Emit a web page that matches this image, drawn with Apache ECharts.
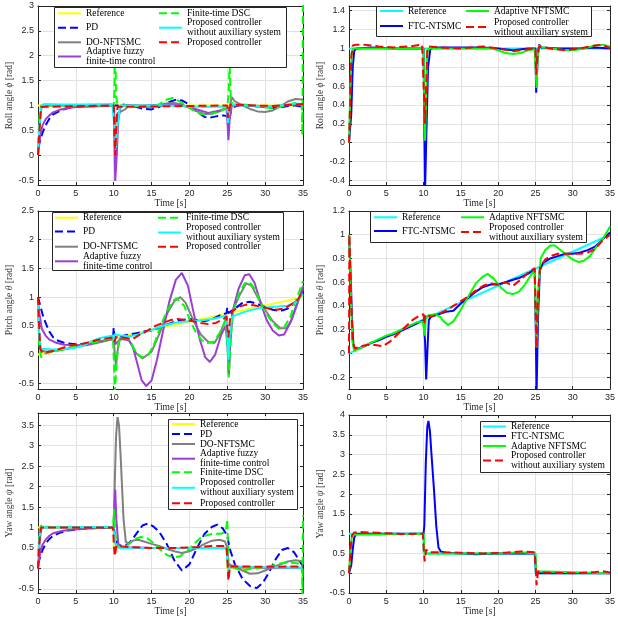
<!DOCTYPE html>
<html>
<head>
<meta charset="utf-8">
<script src="https://cdn.jsdelivr.net/npm/echarts@6/dist/echarts.min.js"></script>
<style>
  html, body { margin: 0; padding: 0; background: #fff; }
  #chart { width: 618px; height: 625px; }
</style>
</head>
<body>
<div id="chart"></div>
<script>
// ---- data: [time s, angle rad] ----
// roll, left panel
const rollL_ref = [[0,1],[35,1]];
const rollL_pd = [[0,0.15],[0.3,0.3],[0.6,0.45],[1,0.6],[1.5,0.73],[2,0.82],[3,0.9],[4,0.95],[5,0.97],[6,0.98],[8,0.99],[10,1.0],[10.2,1.03],[10.5,1.0],[11,1.02],[12,1.0],[13,0.97],[14,0.93],[15,0.92],[16,0.97],[17,1.05],[18.3,1.12],[19,1.1],[20,1.02],[21,0.87],[22,0.77],[22.6,0.75],[23.5,0.78],[24.5,0.8],[25,0.78],[25.2,0.7],[25.5,0.9],[26,0.98],[27,1.02],[28,1.0],[29,0.98],[30,0.97],[31,0.95],[32,0.96],[33,0.99],[34,1.0],[35,0.97]];
const rollL_dof = [[0,0.1],[0.3,0.8],[0.5,0.97],[1,1.0],[10,1.0],[10.2,0.6],[10.5,0.85],[11,0.88],[11.5,0.92],[12,1.0],[13,1.0],[14,0.97],[15,0.97],[16,1.0],[17,1.04],[18,1.05],[19,1.02],[20,0.95],[21,0.88],[22,0.83],[23,0.83],[24,0.88],[24.8,0.93],[25,0.95],[25.2,0.9],[25.6,1.17],[26,1.08],[27,1.0],[28,0.93],[29,0.88],[30,0.87],[31,0.9],[32,0.98],[33,1.08],[34,1.13],[35,1.12]];
const rollL_fuzzy = [[0,0],[0.3,0.4],[0.6,0.6],[1,0.72],[1.5,0.8],[2,0.86],[3,0.92],[4,0.95],[5,0.97],[7,0.98],[9,0.99],[10,1.0],[10.1,0.3],[10.2,-0.52],[10.4,0.0],[10.6,0.7],[10.9,0.97],[11.5,1.0],[14,1.0],[17,1.02],[19,1.0],[21,0.92],[22.5,0.85],[24,0.9],[24.9,0.95],[25.05,0.6],[25.15,0.3],[25.3,0.7],[25.6,1.0],[28,1.0],[31,0.98],[34,1.02],[35,1.0]];
const rollL_dsc = [[0,0.2],[0.2,0.8],[0.4,1.0],[10,1.0],[10.1,1.3],[10.2,2.5],[10.3,1.2],[10.5,1.0],[12,1.0],[14,0.97],[15,0.97],[16,1.02],[17,1.12],[17.8,1.15],[18.5,1.1],[19.5,1.0],[20.5,0.9],[21.5,0.83],[22.5,0.82],[23.5,0.86],[24.5,0.92],[25,0.95],[25.2,1.3],[25.3,1.9],[25.45,1.2],[25.7,1.0],[27,1.02],[28,1.0],[29,0.97],[30,0.96],[31,0.95],[32,0.97],[33,1.02],[34,1.05],[34.85,1.02],[34.92,0.4],[35,3.2]];
const rollL_noaux = [[0,0.1],[0.2,0.6],[0.4,0.95],[0.6,1.02],[1,1.03],[3,1.02],[6,1.02],[9.8,1.03],[10,1.0],[10.15,0.5],[10.3,0.15],[10.5,0.6],[10.8,0.95],[11,1.0],[14,1.0],[17,1.0],[20,0.98],[22,0.97],[24,0.98],[25,0.97],[25.1,0.65],[25.3,0.95],[25.6,1.03],[27,1.0],[30,0.98],[32,1.0],[34,1.04],[35,1.03]];
const rollL_prop = [[0,0],[0.2,0.5],[0.4,0.97],[0.6,1.0],[10,1.0],[10.1,0.4],[10.2,0.0],[10.35,0.6],[10.5,0.97],[10.7,1.0],[25,1.0],[25.1,0.75],[25.3,0.95],[25.5,1.02],[28,1.0],[31,0.99],[34,1.02],[35,1.03]];

// roll, right panel
const rollR_ref = [[0,1],[35,1]];
const rollR_ftc = [[0,0],[0.3,0.3],[0.5,0.8],[0.7,0.97],[1,1.0],[3,1.01],[6,1.0],[10,1.0],[10.1,0.2],[10.2,-0.5],[10.35,0.0],[10.6,0.8],[10.9,0.99],[11.5,1.01],[15,1.01],[18,1.01],[20,1.0],[22,0.98],[24,1.0],[25,1.0],[25.1,0.53],[25.3,0.9],[25.5,1.04],[25.8,1.01],[28,1.0],[31,1.0],[33,1.01],[35,1.0]];
const rollR_anft = [[0,0],[0.15,0.5],[0.35,0.95],[0.6,1.0],[10,1.0],[10.1,0.4],[10.2,0.02],[10.35,0.5],[10.5,0.95],[10.7,1.0],[19,1.0],[20,0.98],[21,0.95],[22,0.94],[23,0.95],[24,0.98],[24.9,0.99],[25.05,0.75],[25.15,0.58],[25.3,0.9],[25.5,1.03],[26,1.01],[27,1.0],[28,0.99],[29,0.98],[30,0.98],[31,0.99],[32,1.01],[33,1.03],[34,1.04],[35,1.02]];
const rollR_noaux = [[0,0],[0.15,0.4],[0.3,0.9],[0.5,1.03],[1,1.04],[2,1.04],[4,1.02],[6,1.01],[8,1.02],[9.8,1.04],[10,1.03],[10.1,0.4],[10.2,0.2],[10.35,0.6],[10.5,0.98],[10.7,1.02],[12,1.01],[15,1.0],[18,1.02],[20,1.0],[22,0.97],[24,0.99],[25,1.0],[25.1,0.72],[25.3,0.95],[25.5,1.02],[27,1.0],[29,0.98],[31,1.0],[33,1.03],[34,1.04],[35,1.0]];

// pitch, left panel
const pitchL_ref = [[0,0],[35,1]];
const pitchL_pd = [[0,1.0],[0.3,0.85],[0.6,0.7],[1,0.55],[1.5,0.4],[2,0.3],[2.5,0.25],[3.5,0.2],[5,0.18],[7,0.2],[9,0.25],[9.9,0.27],[10,0.47],[10.1,0.3],[11,0.32],[12,0.35],[13,0.37],[14,0.4],[15,0.42],[16,0.47],[17,0.52],[18,0.57],[19,0.6],[20,0.62],[21,0.6],[22,0.58],[23,0.62],[24,0.68],[24.9,0.72],[25,0.82],[25.1,0.72],[26,0.8],[27,0.9],[28,0.92],[29,0.88],[30,0.83],[31,0.78],[32,0.76],[33,0.8],[34,0.92],[35,1.1]];
const pitchL_dof = [[0,1.0],[0.15,0.3],[0.3,0.08],[1,0.05],[3,0.08],[5,0.13],[7,0.18],[9,0.24],[10,0.28],[10.15,0.0],[10.3,-0.2],[10.5,0.05],[10.8,0.28],[11.5,0.3],[12,0.25],[13,0.02],[13.8,-0.07],[15,0.05],[16,0.35],[17,0.7],[18,0.93],[18.8,1.0],[19.5,0.9],[20.5,0.6],[21.5,0.35],[22.5,0.22],[23.3,0.2],[24,0.35],[24.9,0.65],[25.05,0.2],[25.2,-0.35],[25.4,0.3],[25.7,0.75],[26.5,1.0],[27.5,1.24],[28.2,1.2],[29,1.0],[30,0.78],[31,0.58],[32,0.46],[32.8,0.46],[33.5,0.6],[34.3,0.9],[35,1.2]];
const pitchL_fuzzy = [[0,0.9],[0.2,0.7],[0.5,0.45],[1,0.33],[1.5,0.26],[2.5,0.2],[3.5,0.17],[5,0.16],[6,0.17],[7,0.19],[8,0.22],[9,0.25],[10,0.29],[10.2,0.18],[10.5,0.22],[11,0.27],[12,0.25],[12.5,0.15],[13,-0.1],[13.7,-0.45],[14.3,-0.55],[15,-0.45],[15.7,-0.1],[16.5,0.4],[17.3,0.9],[18.2,1.3],[19,1.42],[19.8,1.2],[20.6,0.7],[21.4,0.25],[22.1,-0.05],[22.7,-0.13],[23.4,0.0],[24.2,0.35],[24.8,0.5],[25.05,0.1],[25.2,-0.35],[25.4,0.2],[25.7,0.75],[26.5,1.15],[27.3,1.38],[27.9,1.4],[28.6,1.25],[29.4,0.9],[30.2,0.6],[31,0.42],[31.8,0.33],[32.5,0.35],[33.3,0.55],[34.1,0.85],[35,1.15]];
const pitchL_dsc = [[0,0.9],[0.15,0.2],[0.4,-0.05],[0.7,0.0],[1,0.02],[3,0.08],[5,0.14],[7,0.2],[9,0.26],[9.9,0.28],[10.05,-0.2],[10.15,-0.65],[10.35,-0.2],[10.6,0.2],[11,0.3],[12,0.27],[12.5,0.15],[13,0.02],[13.8,-0.05],[14.6,0.0],[15.4,0.2],[16.2,0.5],[17,0.75],[17.8,0.93],[18.3,0.98],[19.3,0.85],[20,0.62],[20.8,0.4],[21.6,0.25],[22.4,0.2],[23.2,0.22],[24,0.38],[24.8,0.6],[25.05,0.1],[25.2,-0.4],[25.45,0.3],[25.8,0.75],[26.5,1.05],[27.3,1.24],[27.9,1.27],[28.6,1.15],[29.4,0.9],[30.2,0.7],[31,0.55],[31.8,0.45],[32.5,0.47],[33.3,0.65],[34.1,0.95],[35,1.28]];
const pitchL_noaux = [[0,0.9],[0.15,0.4],[0.35,0.1],[0.6,0.08],[2,0.09],[4,0.1],[5,0.12],[6,0.16],[7,0.23],[8,0.28],[9,0.31],[9.9,0.33],[10,0.25],[10.1,0.35],[11,0.33],[12,0.32],[13,0.34],[14,0.38],[15,0.43],[16,0.48],[17,0.52],[18,0.55],[19,0.57],[20,0.58],[21,0.59],[22,0.6],[23,0.62],[24,0.65],[24.9,0.68],[25.05,0.2],[25.15,-0.1],[25.35,0.4],[25.6,0.65],[26,0.68],[27,0.73],[28,0.77],[29,0.8],[30,0.82],[31,0.83],[32,0.84],[33,0.85],[34,0.9],[35,1.05]];
const pitchL_prop = [[0,1.0],[0.15,0.5],[0.3,0.1],[0.6,0.03],[2,0.06],[4,0.15],[6,0.19],[8,0.26],[9.9,0.3],[10.1,0.22],[10.3,0.3],[11,0.3],[12,0.28],[12.5,0.27],[13.5,0.35],[14.5,0.42],[15.5,0.5],[16.5,0.55],[17.5,0.6],[18.5,0.62],[19.5,0.6],[20.5,0.58],[21.5,0.55],[22.5,0.53],[23.5,0.55],[24.5,0.62],[24.9,0.66],[25.05,0.4],[25.15,0.3],[25.35,0.6],[25.6,0.75],[26.5,0.83],[27.5,0.87],[28.5,0.86],[29.5,0.83],[30.5,0.8],[31.5,0.78],[32.5,0.8],[33.5,0.88],[34.3,0.95],[35,1.1]];

// pitch, right panel
const pitchR_ref = [[0,0],[35,1]];
const pitchR_ftc = [[0,1.0],[0.2,0.7],[0.4,0.3],[0.6,0.06],[0.8,0.04],[1.2,0.04],[2,0.06],[3,0.09],[4,0.11],[5,0.14],[6,0.16],[7,0.19],[8,0.22],[9,0.25],[10,0.28],[10.2,0.1],[10.35,-0.22],[10.5,0.0],[10.7,0.28],[11,0.31],[12,0.33],[13,0.35],[14,0.36],[15,0.42],[16,0.47],[17,0.52],[18,0.56],[19,0.58],[20,0.58],[21,0.6],[22,0.62],[23,0.64],[24,0.67],[24.9,0.71],[25.05,0.2],[25.15,-0.35],[25.35,0.3],[25.6,0.7],[26,0.76],[27,0.8],[28,0.82],[29,0.84],[30,0.84],[31,0.85],[32,0.87],[33,0.9],[34,0.96],[35,1.02]];
const pitchR_anft = [[0,1.0],[0.2,0.6],[0.45,0.1],[0.7,0.02],[1,0.03],[2,0.06],[3,0.09],[4,0.12],[5,0.15],[6,0.17],[7,0.2],[8,0.23],[9,0.26],[9.9,0.27],[10.05,0.2],[10.15,0.15],[10.3,0.3],[10.6,0.32],[11.5,0.33],[12.2,0.31],[12.7,0.27],[13.3,0.24],[14,0.27],[15,0.37],[16,0.48],[17,0.59],[18,0.65],[18.6,0.67],[19.4,0.63],[20.3,0.56],[21.2,0.51],[22,0.5],[22.8,0.52],[23.6,0.58],[24.4,0.66],[24.9,0.7],[25.05,0.3],[25.15,0.05],[25.35,0.5],[25.7,0.8],[26.3,0.87],[27,0.91],[27.6,0.91],[28.4,0.87],[29.2,0.83],[30,0.79],[30.8,0.77],[31.5,0.78],[32.3,0.82],[33.2,0.9],[34,0.96],[35,1.07]];
const pitchR_noaux = [[0,0.0],[0.05,1.0],[0.25,0.5],[0.5,0.1],[0.8,0.04],[1.5,0.06],[2.5,0.07],[3.5,0.07],[4.5,0.06],[5.5,0.1],[6.5,0.16],[7.5,0.22],[8.5,0.28],[9.5,0.32],[10,0.33],[10.1,0.25],[10.25,0.33],[11,0.31],[12,0.33],[13,0.36],[14,0.4],[15,0.44],[16,0.48],[17,0.53],[18,0.57],[19,0.59],[20,0.58],[21,0.6],[22,0.57],[23,0.62],[24,0.68],[24.9,0.72],[25.05,0.3],[25.15,0.05],[25.35,0.5],[25.6,0.72],[26.3,0.79],[27,0.82],[28,0.84],[29,0.84],[30,0.84],[31,0.84],[32,0.85],[33,0.88],[34,0.95],[35,1.0]];

// yaw, left panel
const yawL_ref = [[0,1],[10,1],[10,0.5],[25,0.5],[25,0],[35,0]];
const yawL_pd = [[0,0.1],[0.3,0.3],[0.6,0.45],[1,0.6],[1.5,0.72],[2,0.8],[3,0.88],[4,0.93],[6,0.97],[8,0.99],[10,1.0],[10.2,0.8],[10.5,0.6],[11,0.55],[11.5,0.55],[12.2,0.65],[13,0.85],[13.8,1.05],[14.5,1.1],[15.2,1.03],[16,0.9],[17,0.6],[18,0.2],[19,-0.05],[20,0.1],[21,0.5],[22,0.85],[23,1.02],[23.7,1.07],[24.4,0.98],[25,0.8],[25.3,0.5],[26,0.1],[27,-0.25],[28,-0.43],[28.9,-0.48],[29.7,-0.35],[30.5,-0.1],[31.3,0.2],[32.2,0.45],[33,0.5],[33.8,0.4],[34.5,0.2],[35,0.05]];
const yawL_dof = [[0,0.0],[0.2,0.6],[0.4,0.95],[0.6,1.0],[10,1.0],[10.1,1.8],[10.3,3.2],[10.5,3.7],[10.7,3.5],[10.9,2.8],[11.1,2.0],[11.3,1.2],[11.6,0.65],[12,0.6],[12.5,0.68],[13.2,0.7],[14,0.66],[15,0.6],[16,0.55],[17,0.48],[18,0.42],[19,0.38],[20,0.42],[21,0.5],[22,0.6],[23,0.68],[24,0.7],[24.7,0.66],[25,0.5],[25.15,0.12],[25.5,0.08],[26,0.05],[27,-0.05],[28,-0.13],[29,-0.12],[30,-0.05],[31,0.03],[32,0.1],[33,0.17],[34,0.2],[34.7,0.18],[35,0.15]];
const yawL_fuzzy = [[0,0.0],[0.3,0.4],[0.6,0.58],[1,0.7],[1.5,0.8],[2,0.86],[3,0.91],[4,0.94],[6,0.97],[8,0.99],[10,1.0],[10.1,1.5],[10.2,1.93],[10.35,1.2],[10.6,0.6],[10.9,0.53],[12,0.52],[15,0.5],[20,0.5],[24.9,0.5],[25.1,0.1],[25.4,0.03],[30,0.02],[35,0.02]];
const yawL_dsc = [[0,0.3],[0.2,0.9],[0.4,1.05],[0.7,1.02],[3,1.01],[9.9,1.0],[10.05,1.45],[10.2,0.8],[10.5,0.55],[11,0.5],[11.5,0.52],[12,0.6],[12.8,0.72],[13.6,0.77],[14.4,0.74],[15.3,0.62],[16.2,0.45],[17.1,0.32],[18,0.27],[18.8,0.3],[19.7,0.42],[20.6,0.6],[21.5,0.75],[22.4,0.82],[23.3,0.85],[24.2,0.85],[24.8,0.9],[25,1.2],[25.15,0.1],[25.5,0.05],[26.5,-0.03],[27.5,-0.03],[28.5,0.0],[29.5,0.03],[30.5,0.05],[31.5,0.1],[32.5,0.14],[33.5,0.14],[34.5,0.12],[34.85,0.1],[34.93,-0.65],[35,1.3]];
const yawL_noaux = [[0,0.3],[0.2,0.8],[0.4,1.0],[0.6,1.02],[9.9,1.02],[10.05,0.85],[10.2,0.6],[10.4,0.52],[11,0.5],[24.9,0.5],[25.05,0.1],[25.15,-0.1],[25.35,0.05],[25.6,0.02],[35,0.02]];
const yawL_prop = [[0,0.0],[0.2,0.7],[0.4,1.0],[9.9,1.0],[10.05,0.5],[10.15,0.3],[10.35,0.55],[10.6,0.52],[12,0.52],[15,0.5],[18,0.5],[21,0.52],[23,0.55],[24.9,0.55],[25.05,0.1],[25.15,-0.3],[25.35,0.05],[26,0.05],[30,0.04],[34,0.05],[35,0.03]];

// yaw, right panel
const yawR_ref = [[0,1],[10,1],[10,0.5],[25,0.5],[25,0],[35,0]];
const yawR_ftc = [[0,0.0],[0.3,0.2],[0.5,0.6],[0.7,0.9],[0.9,0.98],[1.2,1.0],[10,1.0],[10.1,1.2],[10.3,2.8],[10.5,3.7],[10.65,3.85],[10.85,3.6],[11.1,2.9],[11.4,2.1],[11.7,1.2],[12.0,0.65],[12.3,0.55],[13,0.52],[17,0.48],[20,0.5],[24.9,0.5],[25.1,0.02],[25.4,0.0],[30,0.0],[35,0.0]];
const yawR_anft = [[0,0.0],[0.2,0.6],[0.4,0.97],[0.6,1.0],[10,1.0],[10.1,0.6],[10.25,0.5],[20,0.5],[23,0.53],[25,0.5],[25.1,0.05],[25.3,0.0],[35,0.0]];
const yawR_noaux = [[0,0.0],[0.2,0.6],[0.4,0.95],[0.7,1.03],[1.5,1.04],[3,1.03],[5,1.01],[7,0.99],[9.9,1.0],[10.05,0.5],[10.15,0.3],[10.35,0.6],[10.6,0.53],[12,0.53],[15,0.52],[18,0.5],[21,0.52],[23,0.55],[24.9,0.53],[25.05,0.1],[25.15,-0.3],[25.35,0.05],[26,0.02],[30,0.0],[33,0.03],[34,0.05],[35,0.02]];

// labels
const xTicks = [0, 5, 10, 15, 20, 25, 30, 35];
const yRanges = [[-0.6, 3], [-0.45, 1.45], [-0.6, 2.5], [-0.3, 1.2], [-0.6, 3.8], [-0.5, 4]];
const ySplits = [7, 9, 6, 7, 9, 9];
const yNames = ['Roll angle {i|ϕ} [rad]', 'Roll angle {i|ϕ} [rad]', 'Pitch angle {i|θ} [rad]', 'Pitch angle {i|θ} [rad]', 'Yaw angle {i|ψ} [rad]', 'Yaw angle {i|ψ} [rad]'];
const xName = 'Time [s]';

const LBL = {
    ref: 'Reference',
    pd: 'PD',
    dof: 'DO-NFTSMC',
    fuzzy: 'Adaptive fuzzy\nfinite-time control',
    dsc: 'Finite-time DSC',
    noaux: 'Proposed controller\nwithout auxiliary system',
    prop: 'Proposed controller',
    ftc: 'FTC-NTSMC',
    anft: 'Adaptive NFTSMC'
};

// ---- styles and layout ----
const COL = {
    yellow: '#ffff00', blue: '#0000ff', gray: '#808080', purple: '#9b3fd4',
    green: '#00ff00', cyan: '#00ffff', red: '#ff0000'
};
const DASH = [8, 4];
// [label key, color, dashed]
const leftStyle = [['ref', COL.yellow, false], ['pd', COL.blue, true], ['dof', COL.gray, false], ['fuzzy', COL.purple, false], ['dsc', COL.green, true], ['noaux', COL.cyan, false], ['prop', COL.red, true]];
const rightStyle = [['ref', COL.cyan, false], ['ftc', COL.blue, false], ['anft', COL.green, false], ['noaux', COL.red, true]];

const panelData = [
    [rollL_ref, rollL_pd, rollL_dof, rollL_fuzzy, rollL_dsc, rollL_noaux, rollL_prop],
    [rollR_ref, rollR_ftc, rollR_anft, rollR_noaux],
    [pitchL_ref, pitchL_pd, pitchL_dof, pitchL_fuzzy, pitchL_dsc, pitchL_noaux, pitchL_prop],
    [pitchR_ref, pitchR_ftc, pitchR_anft, pitchR_noaux],
    [yawL_ref, yawL_pd, yawL_dof, yawL_fuzzy, yawL_dsc, yawL_noaux, yawL_prop],
    [yawR_ref, yawR_ftc, yawR_anft, yawR_noaux]
];

const grids = [
    {left: 38, top: 6, width: 265, height: 179},
    {left: 349, top: 6, width: 266, height: 179},
    {left: 38, top: 211, width: 265, height: 178},
    {left: 349, top: 211, width: 266, height: 178},
    {left: 38, top: 413, width: 265, height: 180},
    {left: 349, top: 415, width: 266, height: 178}
];
const hideMin = [true, true, true, true, true, false];
const hideMax = [false, true, false, false, true, false];

// legend boxes [x, y, w, h] and items [series index, icon left, centre y, lines]
const legendBoxes = [[54, 7, 232, 60], [376, 6, 215, 30], [52, 212, 231, 58], [370, 211, 216, 31], [168, 419, 129, 90], [480, 421, 130, 51]];
const legendItems = [
    [[0, 57, 13.3, 1], [1, 57, 27.7, 1], [2, 57, 42.3, 1], [3, 57, 56.5, 2], [4, 158, 13.3, 1], [5, 158, 27.7, 2], [6, 158, 42.3, 1]],
    [[0, 379, 11, 1], [1, 379, 26, 1], [2, 465, 11, 1], [3, 465, 27, 2]],
    [[0, 54, 217.7, 1], [1, 54, 231.5, 1], [2, 54, 246.7, 1], [3, 54, 261.3, 2], [4, 157, 217.7, 1], [5, 157, 232.5, 2], [6, 157, 246.7, 1]],
    [[0, 373, 217.3, 1], [1, 373, 231, 1], [2, 460, 217.3, 1], [3, 460, 232, 2]],
    [[0, 171, 424, 1], [1, 171, 434, 1], [2, 171, 444, 1], [3, 171, 458.7, 2], [4, 171, 472.3, 1], [5, 171, 487.8, 2], [6, 171, 503.3, 1]],
    [[0, 482, 426.5, 1], [1, 482, 436, 1], [2, 482, 446, 1], [3, 482, 460.5, 2]]
];

const ink = '#262626';
const sansFont = 'Liberation Sans';
const serifFont = 'Liberation Serif';

const xAxis = [], yAxis = [], series = [], legend = [], graphic = [];

panelData.forEach((lines, p) => {
    const styles = lines.length === 7 ? leftStyle : rightStyle;
    const axisLine = {onZero: false, lineStyle: {color: ink, width: 1}};
    const axisTick = {inside: true, length: 3, lineStyle: {color: ink}};
    const split = {show: true, lineStyle: {color: '#e2e2e2', width: 1}};

    xAxis.push({
        gridIndex: p, type: 'value', position: 'bottom',
        min: xTicks[0], max: xTicks[xTicks.length - 1], interval: xTicks[1] - xTicks[0],
        axisLine, axisTick, splitLine: split,
        axisLabel: {color: ink, fontFamily: sansFont, fontSize: 9, margin: 4},
        name: xName, nameLocation: 'middle', nameGap: 12,
        nameTextStyle: {color: ink, fontFamily: serifFont, fontSize: 9.5}
    });
    xAxis.push({
        gridIndex: p, type: 'value', position: 'top',
        min: xTicks[0], max: xTicks[xTicks.length - 1], interval: xTicks[1] - xTicks[0],
        axisLine, axisTick, splitLine: {show: false}, axisLabel: {show: false}
    });
    yAxis.push({
        gridIndex: p, type: 'value', position: 'left',
        min: yRanges[p][0], max: yRanges[p][1], splitNumber: ySplits[p],
        axisLine, axisTick, splitLine: split,
        axisLabel: {color: ink, fontFamily: sansFont, fontSize: 9, margin: 4,
            showMinLabel: !hideMin[p], showMaxLabel: !hideMax[p]},
        name: yNames[p], nameLocation: 'middle', nameGap: 20,
        nameTextStyle: {color: '#3a3a3a', fontFamily: serifFont, fontSize: 9.5,
            rich: {i: {fontStyle: 'italic', fontFamily: serifFont, fontSize: 9.5, color: '#3a3a3a'}}}
    });
    yAxis.push({
        gridIndex: p, type: 'value', position: 'right',
        min: yRanges[p][0], max: yRanges[p][1], splitNumber: ySplits[p],
        axisLine, axisTick, splitLine: {show: false}, axisLabel: {show: false}
    });

    lines.forEach((d, k) => {
        const [key, color, dashed] = styles[k];
        series.push({
            name: 'p' + p + '|' + LBL[key],
            type: 'line',
            xAxisIndex: 2 * p,
            yAxisIndex: 2 * p,
            data: d,
            showSymbol: false,
            symbol: 'none',
            clip: true,
            silent: true,
            lineStyle: {color, width: 2, type: dashed ? DASH : 'solid'},
            itemStyle: {color}
        });
    });

    const b = legendBoxes[p];
    graphic.push({
        type: 'rect', z: 50,
        shape: {x: b[0] + 0.5, y: b[1] + 0.5, width: b[2], height: b[3]},
        style: {fill: '#fff', stroke: ink, lineWidth: 1}
    });

    legendItems[p].forEach(([k, x, cy, n]) => {
        legend.push({
            data: ['p' + p + '|' + LBL[styles[k][0]]],
            left: x, top: cy - 5 * n,
            orient: 'vertical', padding: 0, z: 60,
            itemWidth: 23, itemHeight: 10,
            selectedMode: false,
            formatter: name => name.split('|')[1],
            // line only, no marker in the middle of the key
            itemStyle: {opacity: 0},
            lineStyle: {width: 2},
            textStyle: {fontFamily: serifFont, fontSize: 9.5, lineHeight: 10, color: '#000'}
        });
    });
});

const chart = echarts.init(document.getElementById('chart'), null, {renderer: 'canvas'});
chart.setOption({
    animation: false,
    backgroundColor: '#fff',
    grid: grids.map(g => Object.assign({containLabel: false, show: false}, g)),
    xAxis, yAxis, series, legend,
    graphic: {elements: graphic}
});
</script>
</body>
</html>
